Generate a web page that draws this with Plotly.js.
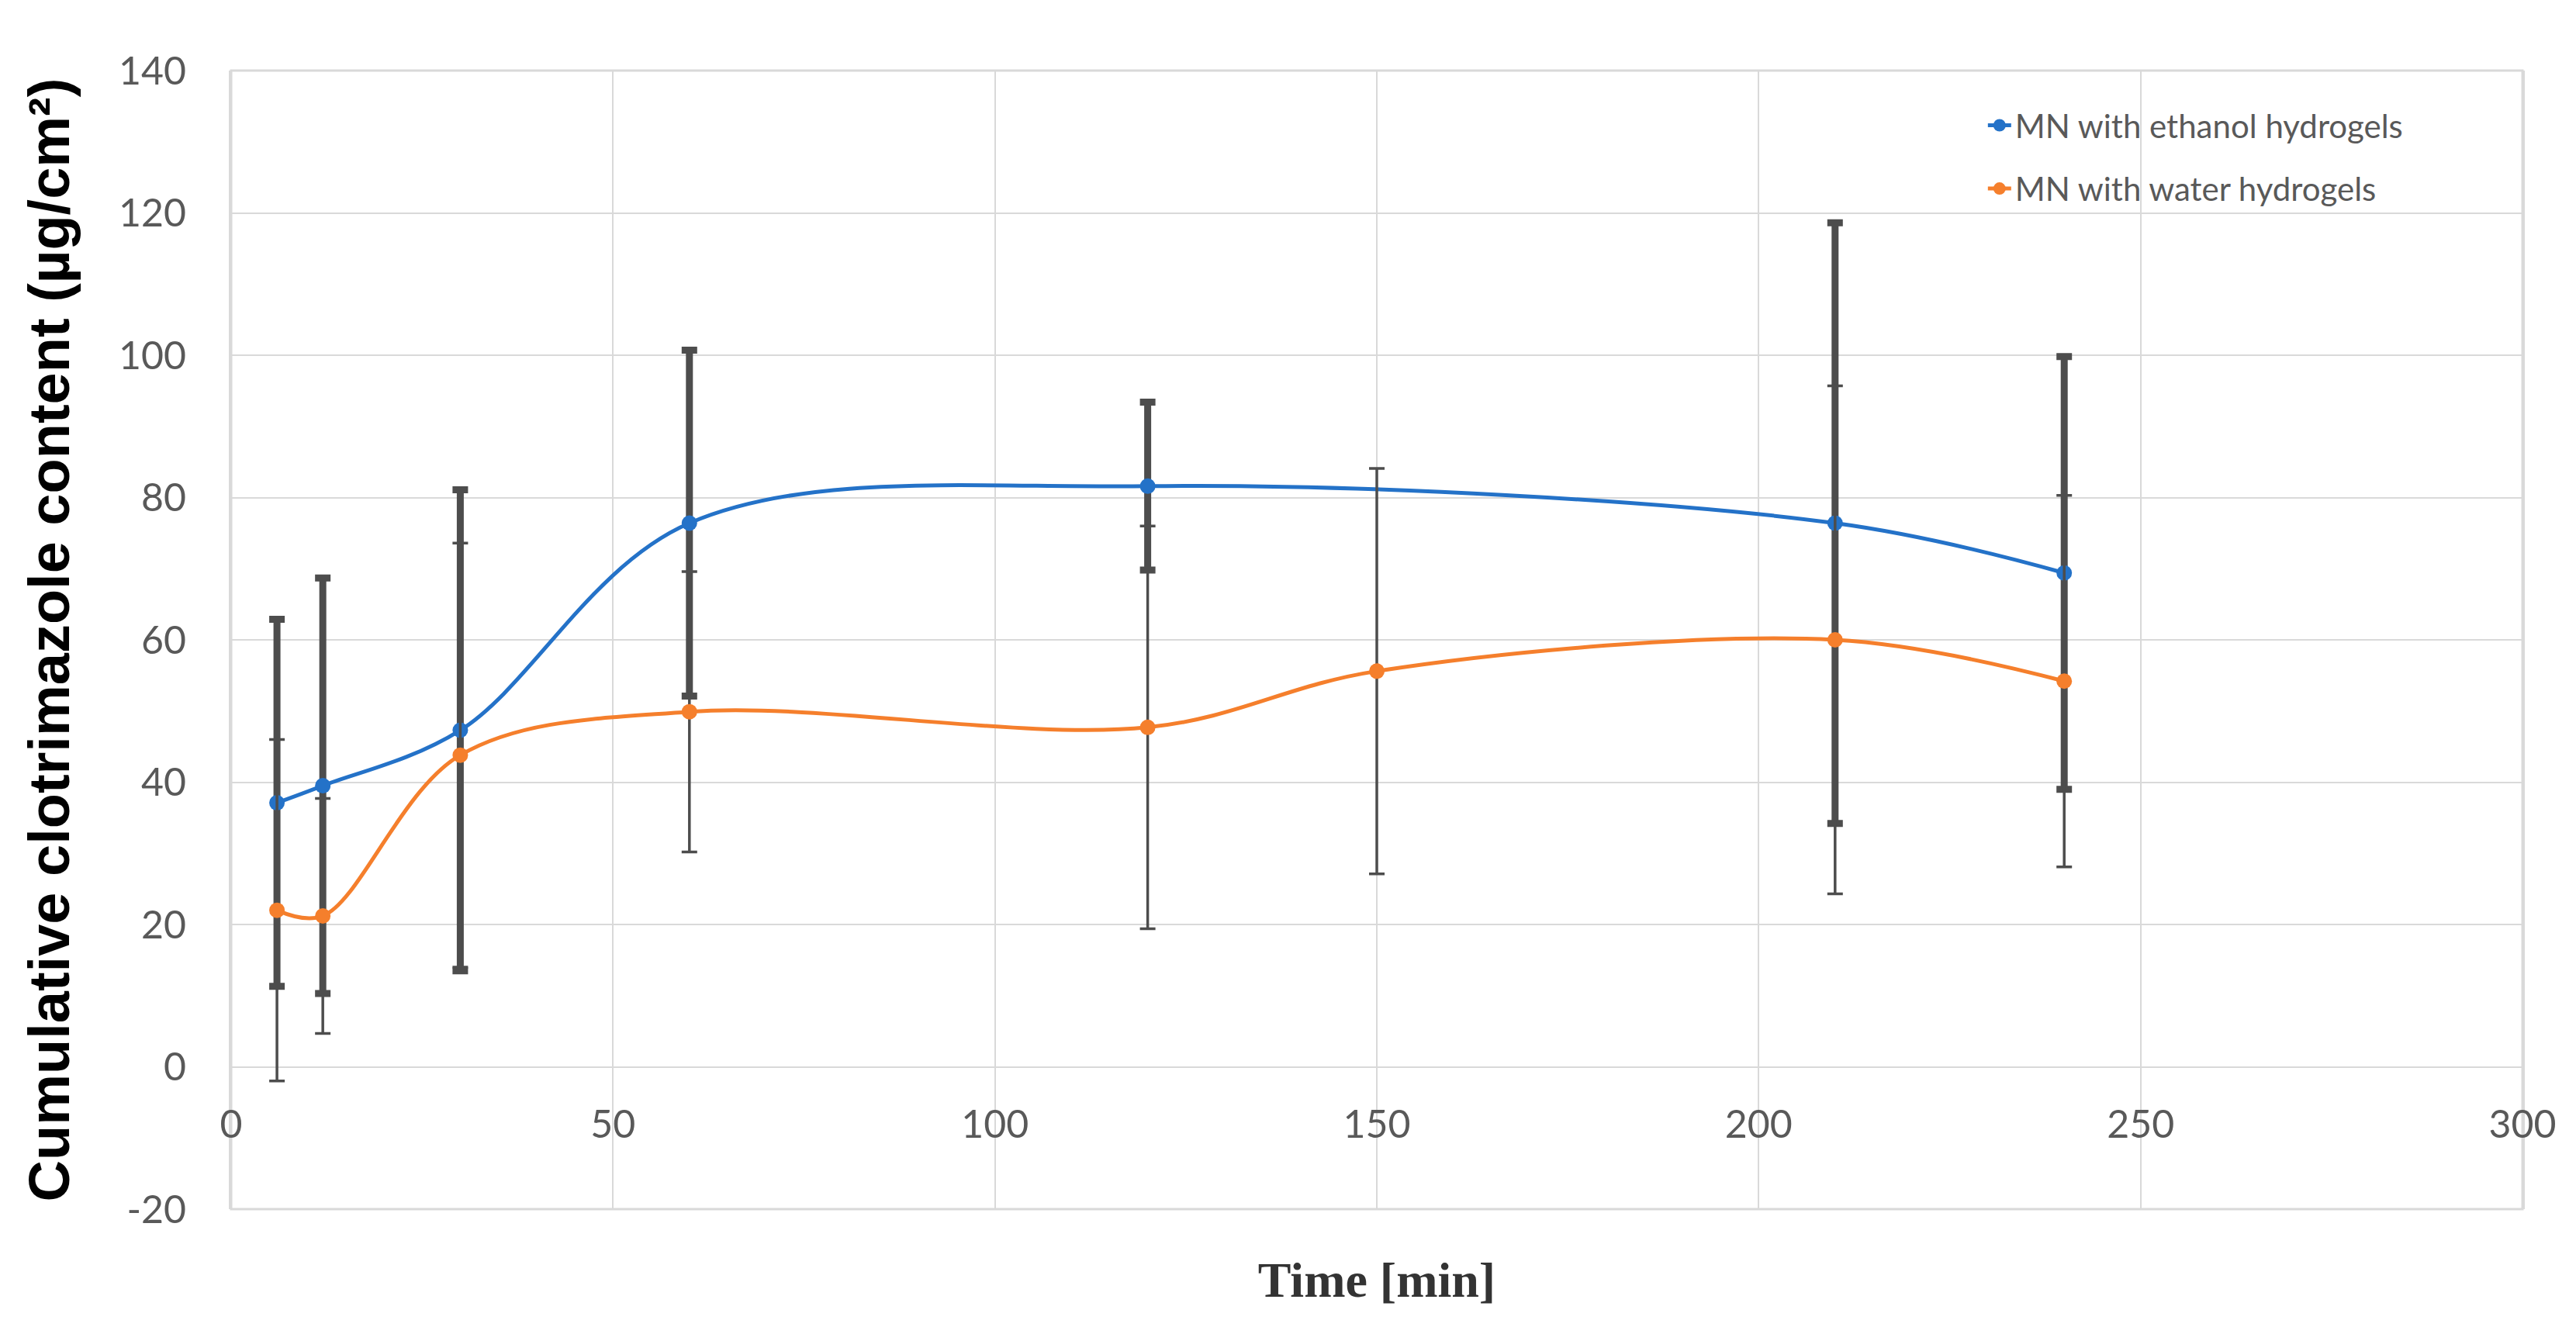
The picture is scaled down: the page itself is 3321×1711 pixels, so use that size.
<!DOCTYPE html>
<html><head><meta charset="utf-8">
<script src="https://cdn.plot.ly/plotly-3.0.1.min.js"></script>
<style>html,body{margin:0;padding:0;background:#fff;}#chart{width:3321px;height:1711px;}</style>
</head><body><div id="chart"></div>
<script>
// Data
const timeEthanol = [6, 12, 30, 60, 120, 210, 240];
const ethanolMean = [37.1, 39.5, 47.3, 76.4, 81.6, 76.4, 69.4];
const ethanolSD   = [25.8, 29.2, 33.8, 24.3, 11.8, 42.2, 30.4];

const timeWater = [6, 12, 30, 60, 120, 150, 210, 240];
const waterMean = [22.0, 21.2, 43.8, 49.9, 47.7, 55.6, 60.0, 54.2];
const waterSD   = [24.0, 16.5, 29.8, 19.7, 28.3, 28.5, 35.7, 26.1];

const seriesNames = ['MN with ethanol hydrogels', 'MN with water hydrogels'];
const xTicks = [0, 50, 100, 150, 200, 250, 300];
const yTicks = [-20, 0, 20, 40, 60, 80, 100, 120, 140];

const blue = '#2472c8';
const orange = '#f57f2c';
const errColor = '#4d4d4d';
const gridColor = '#d9d9d9';
const tickFont = {family: 'Lato, Carlito, sans-serif', size: 50, color: '#595959'};

const traces = [
  {
    x: timeEthanol, y: ethanolMean, name: seriesNames[0], type: 'scatter', mode: 'lines+markers',
    legendgroup: 'a',
    line: {color: blue, width: 5, shape: 'spline', smoothing: 1},
    marker: {color: blue, size: 20, symbol: 'circle'},
    error_y: {type: 'data', array: ethanolSD, visible: true, color: errColor, thickness: 9, width: 10}
  },
  {
    x: timeWater, y: waterMean, name: seriesNames[1], type: 'scatter', mode: 'lines+markers',
    legendgroup: 'b',
    line: {color: orange, width: 5, shape: 'spline', smoothing: 1},
    marker: {color: orange, size: 20, symbol: 'circle'},
    error_y: {type: 'data', array: waterSD, visible: true, color: errColor, thickness: 3.5, width: 10}
  }
];

const layout = {
  width: 3321, height: 1711,
  paper_bgcolor: '#ffffff', plot_bgcolor: '#ffffff',
  margin: {l: 298, r: 69, t: 91, b: 152, autoexpand: false},
  showlegend: true,
  legend: {
    x: 0.765, y: 0.975, xanchor: 'left', yanchor: 'top',
    bgcolor: 'rgba(255,255,255,0)', borderwidth: 0,
    font: {family: 'Lato, Carlito, sans-serif', size: 42, color: '#595959'},
    traceorder: 'grouped', tracegroupgap: 24
  },
  shapes: [{
    type: 'rect', xref: 'paper', yref: 'paper', x0: 0, x1: 1, y0: 0, y1: 1,
    line: {color: gridColor, width: 3}, fillcolor: 'rgba(0,0,0,0)', layer: 'below'
  }],
  xaxis: {
    range: [0, 300], tickvals: xTicks, ticktext: xTicks.map(String),
    showgrid: true, gridcolor: gridColor, gridwidth: 2,
    zeroline: false, showline: false,
    anchor: 'free', position: 0.125,
    ticks: '', ticklabelstandoff: 40,
    tickfont: tickFont,
    title: {text: 'Time [min]', standoff: 150,
      font: {family: 'Liberation Serif, Times New Roman, serif', size: 64, color: '#333333', weight: 700}},
    automargin: false
  },
  yaxis: {
    range: [-20, 140], tickvals: yTicks, ticktext: yTicks.map(String),
    showgrid: true, gridcolor: gridColor, gridwidth: 2,
    zeroline: false, showline: true, linecolor: gridColor, linewidth: 3, mirror: true,
    ticks: '', ticklabelstandoff: 45,
    tickfont: tickFont,
    title: {text: 'Cumulative clotrimazole content (µg/cm²)', standoff: 40,
      font: {family: 'Liberation Sans, Arial, sans-serif', size: 74, color: '#000000', weight: 700}},
    automargin: false
  }
};

Plotly.newPlot('chart', traces, layout, {staticPlot: true, displayModeBar: false});
</script>
</body></html>
